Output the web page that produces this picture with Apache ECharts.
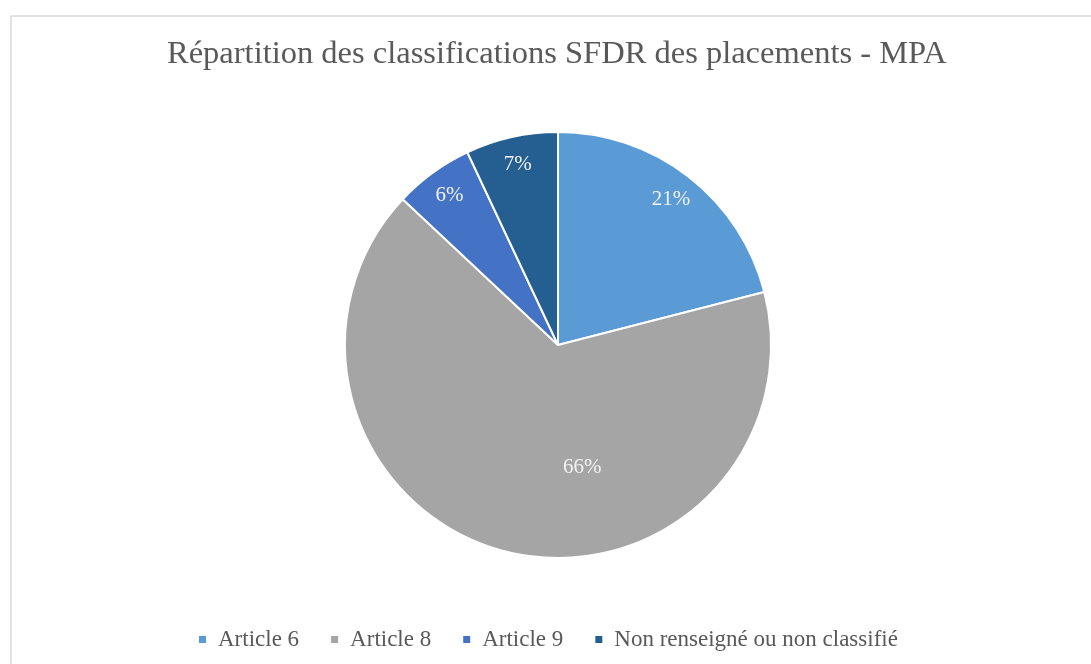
<!DOCTYPE html>
<html lang="fr">
<head>
    <meta charset="UTF-8">
    <title>Répartition SFDR - MPA</title>
    <script src="https://cdn.jsdelivr.net/npm/echarts@6/dist/echarts.min.js"></script>
    <style>
        html, body { margin: 0; padding: 0; background: #fff; }
        #main { width: 1091px; height: 664px; }
    </style>
</head>
<body>
<div id="main"></div>
<script>
    // données
    var categories = ['Article 6', 'Article 8', 'Article 9', 'Non renseigné ou non classifié'];
    var values = [21, 66, 6, 7];
    var colors = ['#5B9BD5', '#A5A5A5', '#4472C4', '#255E91'];

    var serif = '"Liberation Serif", "DejaVu Serif", serif';

    var myChart = echarts.init(document.getElementById('main'));

    // série principale : parts + étiquette du 66% (placée plus bas, comme Excel)
    var mainData = categories.map(function (name, i) {
        var item = {name: name, value: values[i], itemStyle: {color: colors[i]}};
        if (i === 1) {
            item.label = {
                show: true,
                position: 'inside',
                formatter: '\n{c}%',
                lineHeight: 32,
                padding: [0, 0, 0, 103]
            };
        }
        return item;
    });

    // série transparente : sert seulement à poser les étiquettes près du bord
    var labelData = categories.map(function (name, i) {
        var item = {name: name, value: values[i]};
        if (i === 1) {
            item.label = {show: false};
        }
        return item;
    });

    var option = {
        backgroundColor: '#fff',
        animation: false,
        title: {
            text: 'Répartition des classifications SFDR des placements - MPA',
            left: 162,
            top: 33,
            textStyle: {
                fontFamily: serif,
                fontSize: 32.5,
                fontWeight: 'normal',
                color: '#595959'
            }
        },
        legend: {
            bottom: 8,
            left: 192,
            icon: 'rect',
            itemWidth: 9,
            itemHeight: 9,
            itemGap: 30,
            selectedMode: false,
            textStyle: {
                fontFamily: serif,
                fontSize: 23,
                color: '#595959',
                padding: [0, 0, 0, 6]
            },
            data: categories.map(function (name, i) {
                return {name: name, itemStyle: {color: colors[i]}};
            })
        },
        graphic: [{
            type: 'rect',
            shape: {x: 11, y: 16, width: 1200, height: 800},
            style: {fill: 'none', stroke: '#d9d9d9', lineWidth: 1.5},
            silent: true,
            z: -10
        }],
        series: [{
            name: 'main',
            type: 'pie',
            center: [558, 345],
            radius: [0, 213],
            startAngle: 90,
            clockwise: true,
            avoidLabelOverlap: false,
            itemStyle: {borderColor: '#fff', borderWidth: 2},
            label: {
                show: false,
                formatter: '{c}%',
                fontFamily: serif,
                fontSize: 21,
                color: '#f2f2f2'
            },
            labelLine: {show: false},
            emphasis: {disabled: true},
            data: mainData
        }, {
            name: 'labels',
            type: 'pie',
            center: [558, 345],
            radius: [150, 213],
            startAngle: 90,
            clockwise: true,
            silent: true,
            avoidLabelOverlap: false,
            itemStyle: {color: 'transparent', borderWidth: 0},
            label: {
                show: true,
                position: 'inside',
                formatter: '{c}%',
                fontFamily: serif,
                fontSize: 21,
                color: '#f2f2f2'
            },
            labelLine: {show: false},
            emphasis: {disabled: true},
            data: labelData
        }]
    };

    myChart.setOption(option);
</script>
</body>
</html>
